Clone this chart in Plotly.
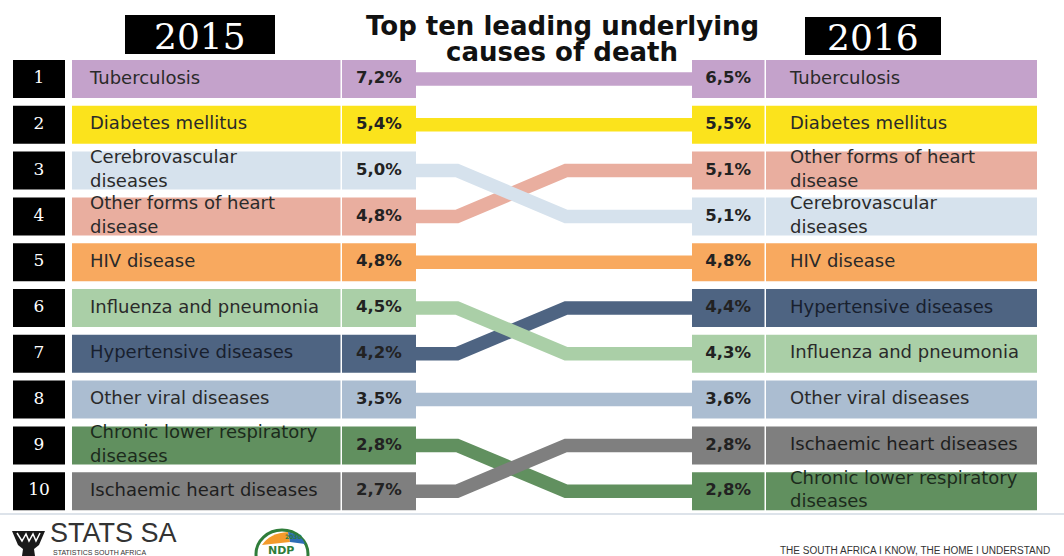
import plotly.graph_objects as go

# Top ten leading underlying causes of death, South Africa, 2015 vs 2016
causes = [
    "Tuberculosis",
    "Diabetes mellitus",
    "Cerebrovascular diseases",
    "Other forms of heart disease",
    "HIV disease",
    "Influenza and pneumonia",
    "Hypertensive diseases",
    "Other viral diseases",
    "Chronic lower respiratory diseases",
    "Ischaemic heart diseases",
]
labels = [
    "Tuberculosis",
    "Diabetes mellitus",
    "Cerebrovascular<br>diseases",
    "Other forms of heart<br>disease",
    "HIV disease",
    "Influenza and pneumonia",
    "Hypertensive diseases",
    "Other viral diseases",
    "Chronic lower respiratory<br>diseases",
    "Ischaemic heart diseases",
]
rank_2015 = [1, 2, 3, 4, 5, 6, 7, 8, 9, 10]
rank_2016 = [1, 2, 4, 3, 5, 7, 6, 8, 10, 9]
share_2015 = [7.2, 5.4, 5.0, 4.8, 4.8, 4.5, 4.2, 3.5, 2.8, 2.7]
share_2016 = [6.5, 5.5, 5.1, 5.1, 4.8, 4.3, 4.4, 3.6, 2.8, 2.8]
colors = [
    "#c4a2cb", "#fbe31c", "#d6e2ed", "#e9ae9f", "#f8a95f",
    "#aacfa7", "#4e6482", "#abbdd1", "#61905f", "#7f7f7f",
]
text_colors = [
    "#2a2a2a", "#2a2a2a", "#2a2a2a", "#2a2a2a", "#2a2a2a",
    "#2a2a2a", "#18202e", "#2a2a2a", "#1c2b1c", "#1e1e1e",
]
# connectors drawn in this order (later ones cross over earlier ones)
connector_order = [0, 1, 3, 2, 4, 6, 5, 7, 8, 9]


def pct(v):
    return f"{v:.1f}".replace(".", ",") + "%"


W, H = 1064, 556
ROW_TOP, ROW_PITCH = 79.0, 45.8          # pixel centre of rank 1, spacing between ranks
BAR_W = 38.0 / ROW_PITCH                 # box height in rank units

# column layout (pixels along the x axis)
NUM_X0, NUM_W = 13, 52
NAME_L_X0, NAME_L_W = 72, 268.5
VAL_L_X0, VAL_L_W = 342, 74
VAL_R_X0, VAL_R_W = 692, 72.5
NAME_R_X0, NAME_R_W = 766, 271
BEND_L, BEND_R = 457, 566

fig = go.Figure()

# rank boxes on the left
fig.add_trace(go.Bar(
    orientation="h", y=rank_2015, base=[NUM_X0] * 10, x=[NUM_W] * 10,
    width=BAR_W, marker=dict(color="#000000", line=dict(width=0)),
))
# 2015 name + value boxes
fig.add_trace(go.Bar(
    orientation="h", y=rank_2015, base=[NAME_L_X0] * 10, x=[NAME_L_W] * 10,
    width=BAR_W, marker=dict(color=colors, line=dict(width=0)),
))
fig.add_trace(go.Bar(
    orientation="h", y=rank_2015, base=[VAL_L_X0] * 10, x=[VAL_L_W] * 10,
    width=BAR_W, marker=dict(color=colors, line=dict(width=0)),
))
# 2016 value + name boxes
fig.add_trace(go.Bar(
    orientation="h", y=rank_2016, base=[VAL_R_X0] * 10, x=[VAL_R_W] * 10,
    width=BAR_W, marker=dict(color=colors, line=dict(width=0)),
))
fig.add_trace(go.Bar(
    orientation="h", y=rank_2016, base=[NAME_R_X0] * 10, x=[NAME_R_W] * 10,
    width=BAR_W, marker=dict(color=colors, line=dict(width=0)),
))

# connector bands between the two years
for i in connector_order:
    fig.add_trace(go.Scatter(
        x=[VAL_L_X0 + VAL_L_W, BEND_L, BEND_R, VAL_R_X0],
        y=[rank_2015[i], rank_2015[i], rank_2016[i], rank_2016[i]],
        mode="lines", line=dict(color=colors[i], width=13.5),
    ))

name_font = "DejaVu Sans"
fig.add_trace(go.Scatter(
    x=[NUM_X0 + NUM_W / 2] * 10, y=rank_2015, mode="text",
    text=[str(r) for r in rank_2015], textposition="middle center",
    textfont=dict(family="DejaVu Serif", size=17, color="#ffffff"),
))
fig.add_trace(go.Scatter(
    x=[NAME_L_X0 + 18] * 10, y=rank_2015, mode="text",
    text=labels, textposition="middle right",
    textfont=dict(family=name_font, size=18, color=text_colors),
))
fig.add_trace(go.Scatter(
    x=[VAL_L_X0 + VAL_L_W / 2] * 10, y=rank_2015, mode="text",
    text=[pct(v) for v in share_2015], textposition="middle center",
    textfont=dict(family=name_font, size=16.5, color="#222222", weight="bold"),
))
fig.add_trace(go.Scatter(
    x=[VAL_R_X0 + VAL_R_W / 2] * 10, y=rank_2016, mode="text",
    text=[pct(v) for v in share_2016], textposition="middle center",
    textfont=dict(family=name_font, size=16.5, color="#222222", weight="bold"),
))
fig.add_trace(go.Scatter(
    x=[NAME_R_X0 + 24] * 10, y=rank_2016, mode="text",
    text=labels, textposition="middle right",
    textfont=dict(family=name_font, size=18, color=text_colors),
))


def py(px):
    """pixel row -> paper fraction"""
    return 1 - px / H


shapes = [
    # year header boxes
    dict(type="rect", xref="x", yref="paper", x0=125, x1=275, y0=py(54), y1=py(15),
         fillcolor="#000000", line=dict(width=0), layer="below"),
    dict(type="rect", xref="x", yref="paper", x0=805, x1=941, y0=py(55), y1=py(17),
         fillcolor="#000000", line=dict(width=0), layer="below"),
    # footer rule
    dict(type="line", xref="x", yref="paper", x0=0, x1=W, y0=py(514), y1=py(514),
         line=dict(color="#dde3ea", width=2)),
    # Stats SA emblem
    dict(type="path", xref="x", yref="paper",
         path=f"M 12 {py(531)} L 45 {py(531)} L 39 {py(545)} L 34 {py(549)} L 35 {py(556)} "
              f"L 22 {py(556)} L 23 {py(549)} L 18 {py(545)} Z",
         fillcolor="#1a1a1a", line=dict(width=0)),
    dict(type="path", xref="x", yref="paper",
         path=f"M 17 {py(533)} L 22 {py(541)} L 26 {py(534)} L 29 {py(541)} L 33 {py(534)} "
              f"L 36 {py(541)} L 40 {py(533)}",
         line=dict(color="#ffffff", width=1.5)),
    # NDP emblem
    dict(type="circle", xref="x", yref="paper", x0=256, x1=308, y0=py(578), y1=py(530),
         fillcolor="#ffffff", line=dict(color="#2f7d3a", width=3)),
    dict(type="path", xref="x", yref="paper",
         path=f"M 262 {py(545)} Q 270 {py(533)} 288 {py(532)} L 290 {py(542)} Z",
         fillcolor="#f39a2b", line=dict(width=0)),
    dict(type="path", xref="x", yref="paper",
         path=f"M 288 {py(532)} Q 302 {py(535)} 305 {py(544)} L 290 {py(542)} Z",
         fillcolor="#2d6db5", line=dict(width=0)),
]


def note(text, x, y, size, family, color="#333333", xanchor="center", weight="normal"):
    return dict(text=text, x=x, y=py(y), xref="x", yref="paper", showarrow=False,
                xanchor=xanchor, yanchor="middle",
                font=dict(family=family, size=size, color=color, weight=weight))


annotations = [
    note("2015", 200, 36, 36, "DejaVu Serif", "#ffffff"),
    note("2016", 873, 37, 36, "DejaVu Serif", "#ffffff"),
    note("Top ten leading underlying", 562, 26, 26, "DejaVu Sans", "#111111", weight="bold"),
    note("causes of death", 562, 52, 26, "DejaVu Sans", "#111111", weight="bold"),
    note("STATS SA", 48, 533, 27, "Liberation Sans", "#333333", xanchor="left"),
    note("STATISTICS SOUTH AFRICA", 51, 552, 7, "Liberation Sans", "#333333", xanchor="left"),
    note("2030", 293, 536, 6, "DejaVu Sans", "#2f7d3a", weight="bold"),
    note("NDP", 281, 550, 11, "DejaVu Sans", "#2f7d3a", weight="bold"),
    note("THE SOUTH AFRICA I KNOW, THE HOME I UNDERSTAND", 778, 550, 10,
         "Liberation Sans", "#333333", xanchor="left"),
]

fig.update_layout(
    width=W, height=H,
    margin=dict(l=0, r=0, t=0, b=0),
    paper_bgcolor="#ffffff", plot_bgcolor="#ffffff",
    showlegend=False, barmode="overlay", hovermode=False,
    xaxis=dict(range=[0, W], visible=False, fixedrange=True),
    yaxis=dict(range=[1 + (H - ROW_TOP) / ROW_PITCH, 1 - ROW_TOP / ROW_PITCH],
               visible=False, fixedrange=True),
    shapes=shapes, annotations=annotations,
)

fig.write_html("out.html", config={"displayModeBar": False, "staticPlot": True})
